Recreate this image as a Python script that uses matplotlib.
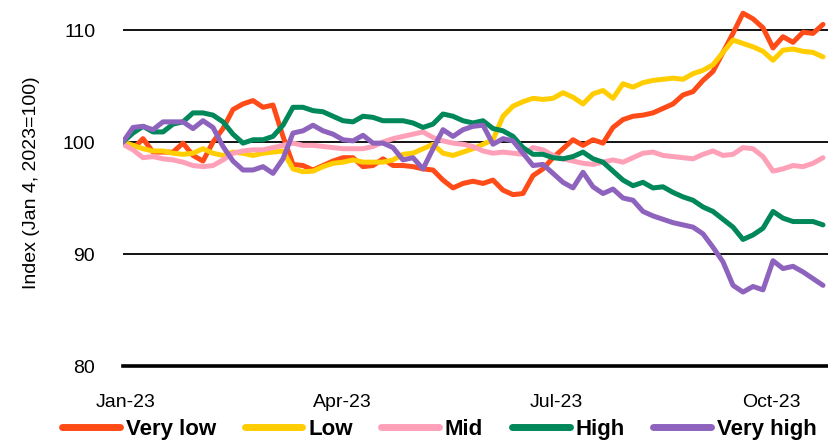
import numpy as np
import matplotlib
matplotlib.use("Agg")
import matplotlib.pyplot as plt

plt.rcParams["font.family"] = ["Liberation Sans Narrow", "Liberation Sans", "DejaVu Sans"]

# index values, Jan 4 2023 = 100, sampled every 3 trading days
very_low = [100.0, 99.4, 100.3, 99.1, 99.1, 99.1, 99.9, 98.8, 98.3, 100.0,
            101.2, 102.9, 103.4, 103.7, 103.1, 103.3, 100.5, 98.0, 97.9, 97.5,
            97.9, 98.3, 98.6, 98.6, 97.8, 97.9, 98.5, 97.9, 97.9, 97.8,
            97.6, 97.5, 96.6, 95.9, 96.3, 96.5, 96.3, 96.6, 95.7, 95.3,
            95.4, 97.0, 97.6, 98.6, 99.4, 100.2, 99.7, 100.2, 99.9, 101.3,
            102.0, 102.3, 102.4, 102.6, 103.0, 103.4, 104.2, 104.5, 105.5, 106.3,
            108.0, 109.7, 111.5, 111.0, 110.2, 108.4, 109.4, 108.9, 109.8, 109.7,
            110.5]
low = [100.0, 99.7, 99.4, 99.2, 99.2, 99.0, 98.9, 99.0, 99.4, 99.0,
       98.8, 99.1, 99.0, 98.8, 99.0, 99.1, 99.2, 97.6, 97.35, 97.4,
       97.8, 98.1, 98.2, 98.4, 98.2, 98.2, 98.2, 98.4, 98.9, 99.0,
       99.4, 99.8, 99.0, 98.8, 99.1, 99.4, 99.8, 100.2, 102.3, 103.2,
       103.6, 103.9, 103.8, 103.9, 104.4, 104.0, 103.4, 104.3, 104.6, 103.9,
       105.2, 104.9, 105.3, 105.5, 105.6, 105.7, 105.6, 106.1, 106.4, 106.9,
       108.0, 109.1, 108.8, 108.5, 108.1, 107.3, 108.2, 108.3, 108.1, 108.0,
       107.6]
mid = [99.8, 99.3, 98.6, 98.7, 98.5, 98.4, 98.2, 97.9, 97.8, 97.9,
       98.4, 99.0, 99.2, 99.3, 99.3, 99.5, 99.7, 99.9, 99.7, 99.7,
       99.6, 99.5, 99.4, 99.4, 99.4, 99.6, 100.0, 100.3, 100.5, 100.7,
       100.9, 100.4, 100.1, 99.9, 99.8, 99.6, 99.2, 99.0, 99.1, 99.0,
       98.9, 99.5, 99.3, 98.8, 98.5, 98.3, 98.1, 98.0, 98.2, 98.4,
       98.2, 98.6, 99.0, 99.1, 98.8, 98.7, 98.6, 98.5, 98.9, 99.2,
       98.8, 98.9, 99.5, 99.4, 98.7, 97.4, 97.6, 97.9, 97.8, 98.1,
       98.6]
high = [100.0, 100.8, 101.4, 100.9, 100.9, 101.6, 101.8, 102.6, 102.6, 102.4,
        101.8, 100.7, 99.9, 100.2, 100.2, 100.5, 101.5, 103.1, 103.1, 102.8,
        102.7, 102.3, 101.9, 101.8, 102.3, 102.2, 101.9, 101.9, 101.9, 101.7,
        101.3, 101.6, 102.5, 102.3, 101.9, 101.7, 101.9, 101.2, 101.0, 100.5,
        99.5, 98.9, 98.9, 98.6, 98.5, 98.7, 99.1, 98.5, 98.2, 97.4,
        96.6, 96.1, 96.4, 95.9, 96.0, 95.5, 95.1, 94.8, 94.2, 93.8,
        93.1, 92.4, 91.3, 91.7, 92.3, 93.8, 93.2, 92.9, 92.9, 92.9,
        92.6]
very_high = [100.0, 101.3, 101.4, 101.1, 101.8, 101.8, 101.8, 101.2, 101.9, 101.3,
             99.6, 98.3, 97.5, 97.5, 97.8, 97.2, 98.5, 100.8, 101.0, 101.5,
             101.0, 100.7, 100.2, 100.1, 100.6, 99.9, 99.9, 99.5, 98.4, 98.6,
             97.6, 99.4, 101.1, 100.5, 101.1, 101.4, 101.5, 99.8, 100.3, 100.1,
             99.0, 97.9, 98.0, 97.2, 96.4, 95.9, 97.3, 96.0, 95.4, 95.8,
             95.0, 94.8, 93.8, 93.4, 93.1, 92.8, 92.6, 92.4, 91.8, 90.6,
             89.3, 87.2, 86.6, 87.1, 86.8, 89.4, 88.7, 88.9, 88.4, 87.8,
             87.2]

series_names = ["Very low", "Low", "Mid", "High", "Very high"]
series_colors = ["#ff4b17", "#ffcd00", "#ffa0b9", "#00875a", "#8e63be"]
tick_labels = ["Jan-23", "Apr-23", "Jul-23", "Oct-23"]
tick_pos = [0.3, 21.9, 43.3, 64.8]

fig = plt.figure(figsize=(8.29, 4.4), dpi=100)
ax = fig.add_axes([123 / 829, 74 / 440, 1 - 123 / 829, 366 / 440])

x = np.arange(len(very_low))
for vals, name, col in zip([very_low, low, mid, high, very_high], series_names, series_colors):
    ax.plot(x, vals, color=col, lw=3.6, label=name, solid_capstyle="round", zorder=3)

for yv in [90, 100, 110]:
    ax.axhline(yv, color="black", lw=1.3, zorder=2)

ax.set_ylim(80, 112.68)
ax.set_xlim(0, 70.6)
ax.set_yticks([80, 90, 100, 110])
ax.set_xticks(tick_pos)
ax.set_xticklabels(tick_labels)
ax.tick_params(axis="both", length=0, labelsize=14, colors="black")
ax.tick_params(axis="y", pad=20)
ax.tick_params(axis="x", pad=20)
for side in ["top", "right", "left"]:
    ax.spines[side].set_visible(False)
ax.spines["bottom"].set_linewidth(2.6)
ax.spines["bottom"].set_zorder(4)

ax.set_ylabel("Index (Jan 4, 2023=100)", fontsize=14, labelpad=16)

leg = fig.legend(loc="lower center", bbox_to_anchor=(0.53, -0.045), ncol=5, frameon=False,
                 prop={"weight": "bold", "size": 16}, handlelength=2.6, handletextpad=0.25,
                 columnspacing=1.3)
for h in leg.get_lines():
    h.set_linewidth(5)

fig.savefig("out.png", dpi=100)
